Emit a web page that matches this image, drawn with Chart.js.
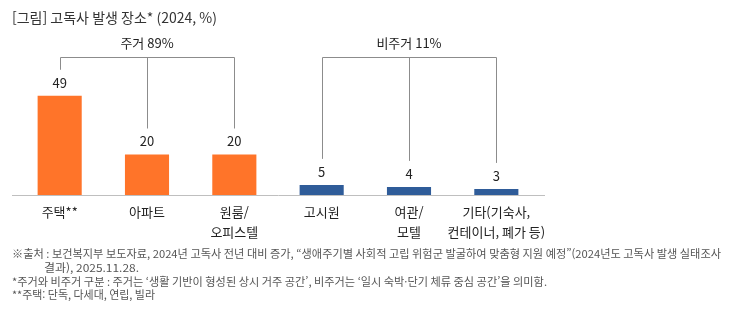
<!DOCTYPE html>
<html lang="ko">
<head>
<meta charset="utf-8">
<script src="https://cdn.jsdelivr.net/npm/chart.js@4/dist/chart.umd.min.js"></script>
<style>
  html, body { margin: 0; padding: 0; background: #fff; }
  #wrap { position: relative; width: 731px; height: 323px; }
  canvas { display: block; }
</style>
</head>
<body>
<div id="wrap"><canvas id="c" width="731" height="323"></canvas></div>
<script>
// 고독사 발생 장소 (2024, %)
const categories = [['주택**'], ['아파트'], ['원룸/', '오피스텔'], ['고시원'], ['여관/', '모텔'], ['기타(기숙사,', '컨테이너, 폐가 등)']];
const shares = [49, 20, 20, 5, 4, 3];
const groupNames = ['주거 89%', '비주거 11%'];
const groupMembers = [[0, 1, 2], [3, 4, 5]];
const barColors = ['#FF7429', '#FF7429', '#FF7429', '#2F5C99', '#2F5C99', '#2F5C99'];
const titleText = '[그림] 고독사 발생 장소* (2024, %)';
const noteLines = [
  '※출처 : 보건복지부 보도자료, 2024년 고독사 전년 대비 증가, “생애주기별 사회적 고립 위험군 발굴하여 맞춤형 지원 예정”(2024년도 고독사 발생 실태조사',
  '결과), 2025.11.28.',
  '*주거와 비주거 구분 : 주거는 ‘생활 기반이 형성된 상시 거주 공간’, 비주거는 ‘일시 숙박·단기 체류 중심 공간’을 의미함.',
  '**주택: 단독, 다세대, 연립, 빌라'
];
// left and right edges of each footnote line
const noteStart = [12, 44, 12, 12];
const noteEnd = [721, 139, 547, 155];

const FONT = '"Noto Sans CJK KR", "Noto Sans", sans-serif';

const decorations = {
  id: 'decorations',
  afterDatasetsDraw(chart) {
    const { ctx, scales: { x, y } } = chart;
    const meta = chart.getDatasetMeta(0);
    ctx.save();

    // title
    ctx.fillStyle = '#333';
    ctx.font = '14px ' + FONT;
    ctx.textAlign = 'left';
    ctx.textBaseline = 'middle';
    ctx.fillText(titleText, 12, 18);

    // baseline
    ctx.strokeStyle = '#BFBFBF';
    ctx.lineWidth = 1;
    ctx.beginPath();
    ctx.moveTo(12, y.getPixelForValue(0) + 0.5);
    ctx.lineTo(545, y.getPixelForValue(0) + 0.5);
    ctx.stroke();

    // value labels
    ctx.fillStyle = '#222';
    ctx.font = '13px ' + FONT;
    ctx.textAlign = 'center';
    meta.data.forEach((bar, i) => {
      ctx.fillText(String(shares[i]), bar.x, bar.y - 13);
    });

    // category labels
    categories.forEach((lines, i) => {
      const cx = x.getPixelForValue(i);
      lines.forEach((t, k) => ctx.fillText(t, cx, 212 + k * 20));
    });

    // group brackets
    const bracketY = 57.5;
    ctx.strokeStyle = '#8C8C8C';
    ctx.lineWidth = 1;
    groupMembers.forEach((members, g) => {
      const xs = members.map(i => Math.round(meta.data[i].x) + 0.5);
      ctx.beginPath();
      ctx.moveTo(xs[0], bracketY);
      ctx.lineTo(xs[xs.length - 1], bracketY);
      members.forEach((i, k) => {
        ctx.moveTo(xs[k], bracketY);
        ctx.lineTo(xs[k], meta.data[i].y - 26);
      });
      ctx.stroke();
      ctx.fillStyle = '#222';
      ctx.font = '13px ' + FONT;
      ctx.fillText(groupNames[g], meta.data[members[1]].x, 43);
    });

    // footnotes, each fitted to its line width
    ctx.fillStyle = '#555';
    ctx.font = '11px ' + FONT;
    ctx.textAlign = 'left';
    const noteY = [254, 268, 282, 295];
    noteLines.forEach((t, k) => {
      const target = noteEnd[k] - noteStart[k];
      const w = ctx.measureText(t).width;
      ctx.save();
      ctx.translate(noteStart[k], noteY[k]);
      ctx.scale(target / w, 1);
      ctx.fillText(t, 0, 0);
      ctx.restore();
    });

    ctx.restore();
  }
};

new Chart(document.getElementById('c'), {
  type: 'bar',
  data: {
    labels: categories.map(l => l.join(' ')),
    datasets: [{
      data: shares,
      backgroundColor: barColors,
      borderWidth: 0,
      categoryPercentage: 1,
      barPercentage: 0.505
    }]
  },
  options: {
    responsive: false,
    animation: false,
    layout: { padding: { top: 33, bottom: 128, left: 16, right: 191 } },
    plugins: { legend: { display: false }, title: { display: false }, tooltip: { enabled: false } },
    scales: {
      x: { display: false },
      y: { display: false, min: 0, max: 80 }
    }
  },
  plugins: [decorations]
});
</script>
</body>
</html>
